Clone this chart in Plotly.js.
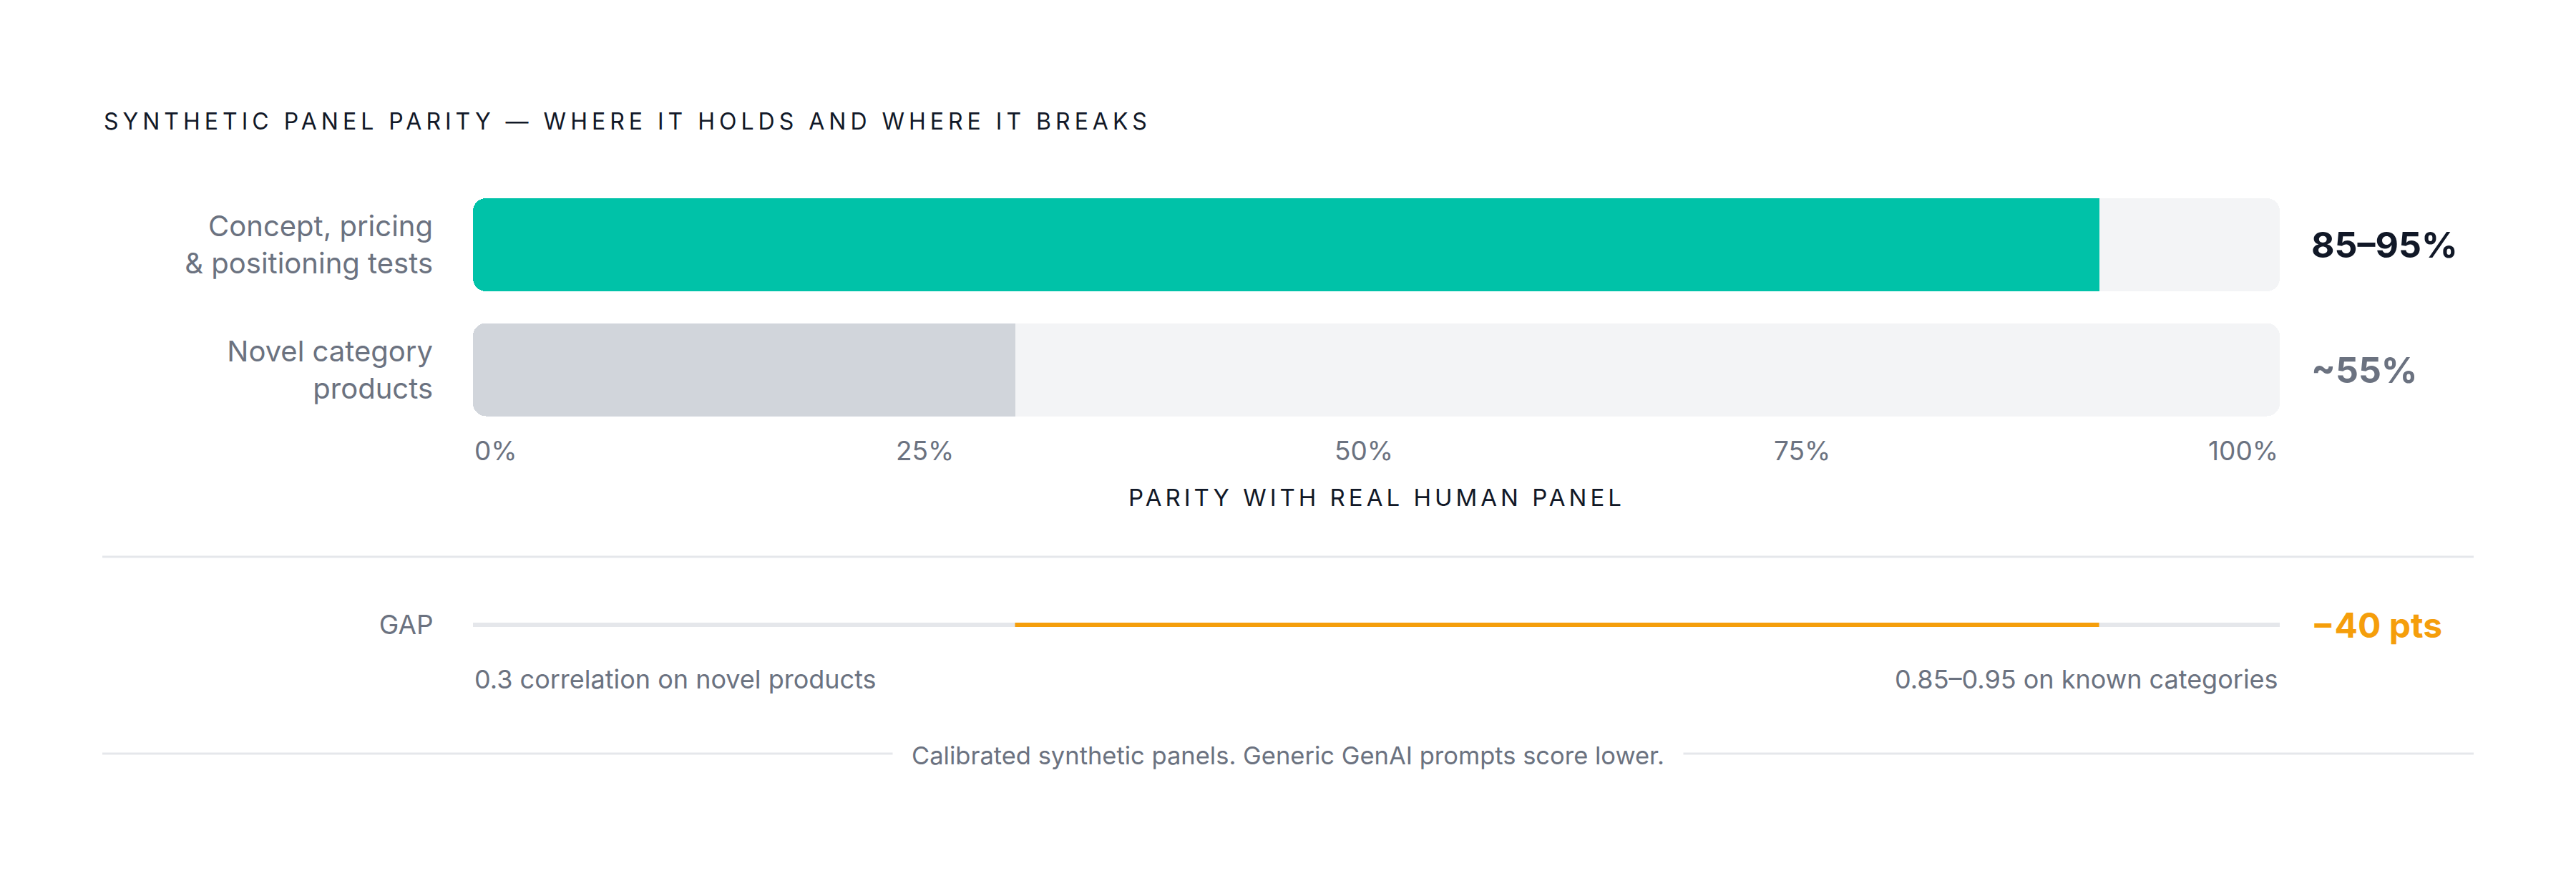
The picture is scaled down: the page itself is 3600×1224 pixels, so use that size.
<!DOCTYPE html>
<html>
<head>
<meta charset="utf-8">
<script src="https://cdn.plot.ly/plotly-3.0.1.min.js"></script>
<style>
  html, body { margin: 0; padding: 0; background: #ffffff; }
  #chart { width: 3600px; height: 1224px; }
  .gtitle { letter-spacing: 6px; }
  g.annotation[data-index="0"] text { letter-spacing: 5px; }
</style>
</head>
<body>
<div id="chart"></div>
<script>
// data
const categories = ['Concept, pricing<br>& positioning tests', 'Novel category<br>products'];
const parityFill = [90, 30];
const parityLabels = ['85–95%', '~55%'];
const tickVals = [0, 25, 50, 75, 100];
const tickText = ['0%', '25%', '50%', '75%', '100%'];
const gapRange = [30, 90];
const gapLabel = '−40 pts';
const gapNotes = ['0.3 correlation on novel products', '0.85–0.95 on known categories'];

const W = 3600, H = 1224;
const px = v => v / W;
const py = v => 1 - v / H;

const FONT = 'Inter, "Noto Sans", sans-serif';
const GRAY = '#6b7280';
const DARK = '#111827';
const RULE = '#e5e7eb';
const full = tickVals[tickVals.length - 1];

const traces = [
  // rounded track behind each row (base set -> all four corners rounded)
  {
    type: 'bar', orientation: 'h', xaxis: 'x', yaxis: 'y',
    y: categories, x: categories.map(() => full), base: categories.map(() => 0),
    marker: { color: '#f3f4f6', cornerradius: 18 },
    width: 0.745, hoverinfo: 'skip'
  },
  // fill: stacked on a mirrored axis so only its 0% end gets rounded
  {
    type: 'bar', orientation: 'h', xaxis: 'x2', yaxis: 'y',
    y: categories, x: parityFill.map(v => full - v),
    marker: { color: 'rgba(0,0,0,0)', cornerradius: 18 },
    width: 0.745, hoverinfo: 'skip'
  },
  {
    type: 'bar', orientation: 'h', xaxis: 'x2', yaxis: 'y',
    y: categories, x: parityFill,
    marker: { color: ['#00c2a8', '#d1d5db'], cornerradius: 18 },
    width: 0.745, hoverinfo: 'skip'
  },
  // gap track
  {
    type: 'scatter', mode: 'lines', xaxis: 'x', yaxis: 'y2',
    x: [tickVals[0], full], y: [0, 0],
    line: { color: RULE, width: 6 }, hoverinfo: 'skip'
  },
  {
    type: 'scatter', mode: 'lines', xaxis: 'x', yaxis: 'y2',
    x: gapRange, y: [0, 0],
    line: { color: '#f59e0b', width: 6 }, hoverinfo: 'skip'
  }
];

const annotations = [
  {
    text: 'PARITY WITH REAL HUMAN PANEL', xref: 'x', yref: 'paper',
    x: 50, y: py(695), xanchor: 'center', yanchor: 'middle', showarrow: false,
    font: { family: FONT, size: 33, color: DARK }
  }
];

// tick labels are spread edge to edge, so the inner ones sit a bit left of their value
const tickShift = [0, 0, -18, -36, 0];
tickVals.forEach((v, i) => {
  annotations.push({
    text: tickText[i], xref: 'x', yref: 'paper', x: v, y: py(630),
    xanchor: i === 0 ? 'left' : (i === tickVals.length - 1 ? 'right' : 'center'),
    xshift: tickShift[i],
    yanchor: 'middle', showarrow: false,
    font: { family: FONT, size: 37, color: GRAY }
  });
});

categories.forEach((c, i) => {
  annotations.push({
    text: parityLabels[i], xref: 'paper', yref: 'y', x: px(3228), y: c,
    xanchor: 'left', yanchor: 'middle', showarrow: false,
    font: { family: FONT, size: 50, color: i === 0 ? DARK : GRAY, weight: 700 }
  });
});

annotations.push({
  text: gapLabel, xref: 'paper', yref: 'y2', x: px(3228), y: 0,
  xanchor: 'left', yanchor: 'middle', showarrow: false,
  font: { family: FONT, size: 48, color: '#f59e0b', weight: 700 }
});

annotations.push({
  text: gapNotes[0], xref: 'x', yref: 'paper', x: tickVals[0], y: py(949),
  xanchor: 'left', yanchor: 'middle', showarrow: false,
  font: { family: FONT, size: 36, color: GRAY }
});
annotations.push({
  text: gapNotes[1], xref: 'x', yref: 'paper', x: full, y: py(949),
  xanchor: 'right', yanchor: 'middle', showarrow: false,
  font: { family: FONT, size: 36, color: GRAY }
});

annotations.push({
  text: 'Calibrated synthetic panels. Generic GenAI prompts score lower.',
  xref: 'paper', yref: 'paper', x: 0.5, y: py(1055),
  xanchor: 'center', yanchor: 'middle', showarrow: false,
  bgcolor: '#ffffff', borderpad: 26,
  font: { family: FONT, size: 34.5, color: GRAY }
});

const layout = {
  width: W, height: H,
  margin: { l: 0, r: 0, t: 0, b: 0 },
  paper_bgcolor: '#ffffff', plot_bgcolor: 'rgba(0,0,0,0)',
  showlegend: false,
  barmode: 'stack',
  font: { family: FONT, color: GRAY },
  title: {
    text: 'SYNTHETIC PANEL PARITY — WHERE IT HOLDS AND WHERE IT BREAKS',
    x: px(145), xanchor: 'left', xref: 'paper',
    y: py(170), yanchor: 'middle', yref: 'paper',
    font: { family: FONT, size: 32, color: DARK }
  },
  xaxis: {
    domain: [px(661), px(3186)], range: [0, full],
    showgrid: false, zeroline: false, showline: false, showticklabels: false, ticks: ''
  },
  xaxis2: {
    overlaying: 'x', range: [full, 0], anchor: 'y',
    showgrid: false, zeroline: false, showline: false, showticklabels: false, ticks: ''
  },
  yaxis: {
    domain: [py(603.75), py(254.75)], autorange: 'reversed',
    type: 'category', categoryarray: categories,
    showgrid: false, zeroline: false, showline: false,
    ticks: 'outside', ticklen: 47, tickcolor: 'rgba(0,0,0,0)',
    tickfont: { family: FONT, size: 40, color: GRAY }
  },
  yaxis2: {
    domain: [py(893), py(853)], range: [-1, 1], anchor: 'x',
    showgrid: false, zeroline: false, showline: false,
    tickvals: [0], ticktext: ['GAP'],
    ticks: 'outside', ticklen: 47, tickcolor: 'rgba(0,0,0,0)',
    tickfont: { family: FONT, size: 37, color: GRAY }
  },
  shapes: [
    { type: 'line', xref: 'paper', yref: 'paper', x0: px(143), x1: px(3457), y0: py(778), y1: py(778),
      line: { color: RULE, width: 3 } },
    { type: 'line', xref: 'paper', yref: 'paper', x0: px(143), x1: px(3457), y0: py(1053), y1: py(1053),
      line: { color: RULE, width: 3 }, layer: 'below' }
  ],
  annotations: annotations
};

Plotly.newPlot('chart', traces, layout, { staticPlot: true, displayModeBar: false });
</script>
</body>
</html>
